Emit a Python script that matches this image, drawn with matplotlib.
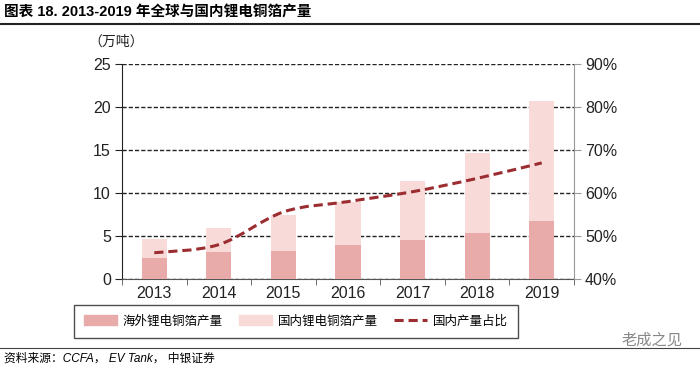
import numpy as np
import matplotlib
matplotlib.use("Agg")
import matplotlib.pyplot as plt
from matplotlib.path import Path
from matplotlib.patches import PathPatch, Patch
from matplotlib.lines import Line2D

plt.rcParams['font.family'] = ['Liberation Sans Narrow', 'Liberation Sans', 'Noto Sans CJK SC', 'DejaVu Sans']

years = ['2013', '2014', '2015', '2016', '2017', '2018', '2019']
overseas = [2.5, 3.1, 3.2, 3.9, 4.5, 5.4, 6.8]      # 海外锂电铜箔产量 (万吨)
total = [4.6, 5.9, 7.5, 9.0, 11.4, 14.6, 20.7]      # 全球产量 (万吨)
domestic = [t - o for t, o in zip(total, overseas)]  # 国内锂电铜箔产量
share = [46.1, 48.0, 55.6, 58.0, 60.3, 63.4, 67.0]  # 国内产量占比 (%)

c_over = '#E8ABAA'
c_dom = '#F8DAD9'
c_line = '#9B2D30'


def smooth_path(xs, ys):
    # catmull-rom through the points, drawn as bezier segments
    n = len(xs)
    verts = [(xs[0], ys[0])]
    codes = [Path.MOVETO]
    for i in range(n - 1):
        a = max(i - 1, 0)
        b = min(i + 2, n - 1)
        c1 = (xs[i] + (xs[i + 1] - xs[a]) / 6, ys[i] + (ys[i + 1] - ys[a]) / 6)
        c2 = (xs[i + 1] - (xs[b] - xs[i]) / 6, ys[i + 1] - (ys[b] - ys[i]) / 6)
        verts += [c1, c2, (xs[i + 1], ys[i + 1])]
        codes += [Path.CURVE4] * 3
    return Path(verts, codes)


fig = plt.figure(figsize=(7, 3.69), dpi=100)
ax = fig.add_axes([122 / 700, 1 - 279 / 369, 452 / 700, 215 / 369])
x = np.arange(len(years))
w = 0.39
ax.bar(x, overseas, w, color=c_over, zorder=3)
ax.bar(x, domestic, w, bottom=overseas, color=c_dom, zorder=3)
ax.set_ylim(0, 25)
ax.set_xlim(-0.5, 6.5)
ax.set_yticks(range(0, 26, 5))
ax.yaxis.grid(True, linestyle=(0, (3, 1.5)), color='#222222', linewidth=1.0, zorder=1)
ax.set_xticks(x)
ax.set_xticklabels(years)
ax.set_xticks(np.arange(-0.5, 7, 1), minor=True)
ax.tick_params(axis='x', which='major', length=0, labelsize=11.5, pad=5, colors='#222222')
ax.tick_params(axis='x', which='minor', length=4, color='#555555')
ax.tick_params(axis='y', length=5, labelsize=11.5, colors='#222222', color='#222222', pad=3)
ax.spines['top'].set_visible(False)
ax.spines['right'].set_visible(False)
ax.spines['left'].set_color('#222222')
ax.spines['bottom'].set_color('#555555')

ax2 = ax.twinx()
ax2.set_ylim(40, 90)
ax2.set_yticks(range(40, 91, 10))
ax2.set_yticklabels([f'{v}%' for v in range(40, 91, 10)])
ax2.tick_params(axis='y', length=5, labelsize=11.5, colors='#222222', color='#999999', pad=3)
for s in ['top', 'left', 'bottom']:
    ax2.spines[s].set_visible(False)
ax2.spines['right'].set_color('#999999')
ax2.add_patch(PathPatch(smooth_path(list(x), share), fill=False, edgecolor=c_line,
                        linewidth=2.2, linestyle=(0, (3, 1.6)), zorder=4))

ax.text(-0.013, 1.07, '（万吨）', transform=ax.transAxes, fontsize=10,
        family=['Noto Sans CJK SC'], ha='center', va='bottom', color='#222222')

handles = [Patch(color=c_over), Patch(color=c_dom),
           Line2D([], [], color=c_line, linewidth=2.2, linestyle=(0, (3, 1.6)))]
labels = ['海外锂电铜箔产量', '国内锂电铜箔产量', '国内产量占比']
leg = fig.legend(handles, labels, loc='center', ncol=3,
                 bbox_to_anchor=(296 / 700, 1 - 321 / 369),
                 frameon=True, fancybox=False, edgecolor='#222222',
                 prop={'family': ['Noto Sans CJK SC'], 'size': 9},
                 handlelength=2.6, handleheight=0.9, handletextpad=0.5,
                 columnspacing=1.3, borderpad=0.8, borderaxespad=0)
leg.get_frame().set_linewidth(1.0)

fig.text(4 / 700, 1 - 12 / 369, '图表 18. 2013-2019 年全球与国内锂电铜箔产量', fontsize=10.5,
         fontweight='bold', family=['Liberation Sans', 'Noto Sans CJK SC'], va='center', ha='left')
fig.add_artist(Line2D([0, 1], [1 - 24 / 369] * 2, color='#222222', linewidth=1.5))
fig.add_artist(Line2D([0, 1], [1 - 348 / 369] * 2, color='#444444', linewidth=0.8))
fig.text(4 / 700, 1 - 359 / 369, '资料来源：CCFA， EV Tank， 中银证券', fontsize=8.5,
         style='italic', family=['Liberation Sans', 'Noto Sans CJK SC'], va='center', ha='left')
fig.text(652 / 700, 1 - 340 / 369, '老成之见', fontsize=11, color='#888888',
         family=['Noto Sans CJK SC'], va='center', ha='center')

fig.savefig('out.png', dpi=100)
